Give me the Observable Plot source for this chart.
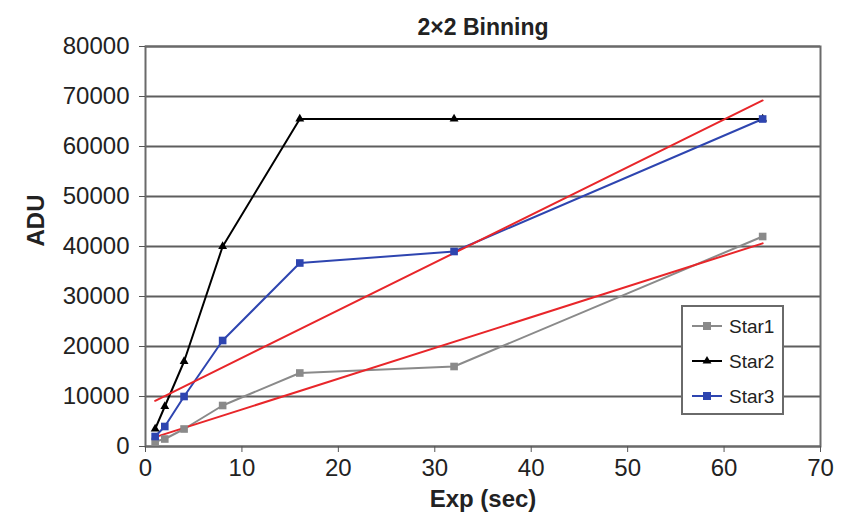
<!DOCTYPE html>
<html>
<head>
<meta charset="utf-8">
<script src="https://cdn.jsdelivr.net/npm/d3@7"></script>
<script src="https://cdn.jsdelivr.net/npm/@observablehq/plot@0.6"></script>
<style>
  html, body { margin: 0; padding: 0; background: #fff; }
  #chart { width: 846px; height: 526px; }
</style>
</head>
<body>
<div id="chart"></div>
<script>
const exposures = [1, 2, 4, 8, 16, 32, 64];
const star1 = [1000, 1500, 3500, 8200, 14700, 16000, 42000];
const star2 = [3500, 8000, 17000, 40000, 65500, 65500, 65500];
const star3 = [2000, 4000, 10000, 21200, 36700, 39000, 65500];
const seriesNames = ["Star1", "Star2", "Star3"];
const xTicks = [0, 10, 20, 30, 40, 50, 60, 70];
const yTicks = [0, 10000, 20000, 30000, 40000, 50000, 60000, 70000, 80000];
const titleText = "2×2 Binning";
const xLabel = "Exp (sec)";
const yLabel = "ADU";

const colors = { Star1: "#8a8a8a", Star2: "#000000", Star3: "#2e45b0" };
const symbols = { Star1: "square", Star2: "triangle", Star3: "square" };
const trendColor = "#e8262a";

const rows = [];
[star1, star2, star3].forEach((vals, i) => {
  vals.forEach((v, j) => rows.push({ series: seriesNames[i], exp: exposures[j], adu: v }));
});
const s1 = rows.filter(d => d.series === "Star1");
const s2 = rows.filter(d => d.series === "Star2");
const s3 = rows.filter(d => d.series === "Star3");

const font = "Liberation Sans, Arial, Helvetica, sans-serif";

const chart = Plot.plot({
  width: 846,
  height: 526,
  marginLeft: 145,
  marginRight: 26,
  marginTop: 46,
  marginBottom: 80,
  style: { fontFamily: font, fontSize: "24px", color: "#222", background: "#fff" },
  x: { domain: [0, 70] },
  y: { domain: [0, 80000] },
  marks: [
    Plot.ruleY(yTicks, { stroke: "#5e5e5e", strokeWidth: 2 }),
    Plot.frame({ stroke: "#6a6a6a", strokeWidth: 2 }),
    Plot.axisX({ ticks: xTicks, tickSize: 6, tickPadding: 6, fontSize: 24, label: null, stroke: "#555", tickFormat: d => String(d) }),
    Plot.axisY({ ticks: yTicks, tickSize: 6, tickPadding: 10, fontSize: 24, label: null, stroke: "#555", tickFormat: d => String(d) }),
    Plot.line(s1, { x: "exp", y: "adu", stroke: colors.Star1, strokeWidth: 2 }),
    Plot.line(s2, { x: "exp", y: "adu", stroke: colors.Star2, strokeWidth: 2 }),
    Plot.line(s3, { x: "exp", y: "adu", stroke: colors.Star3, strokeWidth: 2 }),
    Plot.linearRegressionY(s1, { x: "exp", y: "adu", stroke: trendColor, strokeWidth: 2, ci: 0 }),
    Plot.linearRegressionY(s3, { x: "exp", y: "adu", stroke: trendColor, strokeWidth: 2, ci: 0 }),
    Plot.dot(s1, { x: "exp", y: "adu", symbol: "square", r: 4.3, fill: colors.Star1, stroke: "none" }),
    Plot.dot(s2, { x: "exp", y: "adu", symbol: "triangle", r: 3.3, fill: colors.Star2, stroke: "none" }),
    Plot.dot(s3, { x: "exp", y: "adu", symbol: "square", r: 4.3, fill: colors.Star3, stroke: "none" }),
    Plot.text([titleText], { frameAnchor: "top", dy: -28, fontWeight: "bold", fontSize: 23, fill: "#222" }),
    Plot.text([xLabel], { frameAnchor: "bottom", dy: 60, fontWeight: "bold", fontSize: 24, fill: "#222" }),
    Plot.text([yLabel], { frameAnchor: "left", dx: -109, rotate: -90, fontWeight: "bold", fontSize: 24, fill: "#222" })
  ]
});

document.getElementById("chart").appendChild(chart);

// Legend box inside the plot area
const svg = d3.select(chart);
const lg = svg.append("g").attr("transform", "translate(682,306)");
lg.append("rect").attr("width", 101).attr("height", 108)
  .attr("fill", "#fff").attr("stroke", "#6a6a6a").attr("stroke-width", 2);
seriesNames.forEach((name, i) => {
  const cy = 20 + i * 35;
  lg.append("line").attr("x1", 10).attr("x2", 40).attr("y1", cy).attr("y2", cy)
    .attr("stroke", colors[name]).attr("stroke-width", 2);
  if (symbols[name] === "square") {
    lg.append("rect").attr("x", 21).attr("y", cy - 4).attr("width", 8).attr("height", 8)
      .attr("fill", colors[name]);
  } else {
    lg.append("path").attr("d", d3.symbol(d3.symbolTriangle, 34)()).attr("transform", `translate(25,${cy})`)
      .attr("fill", colors[name]);
  }
  lg.append("text").attr("x", 47).attr("y", cy).attr("dy", "0.35em")
    .attr("text-anchor", "start")
    .attr("font-family", font).attr("font-size", 19).attr("fill", "#222").text(name);
});
</script>
</body>
</html>
